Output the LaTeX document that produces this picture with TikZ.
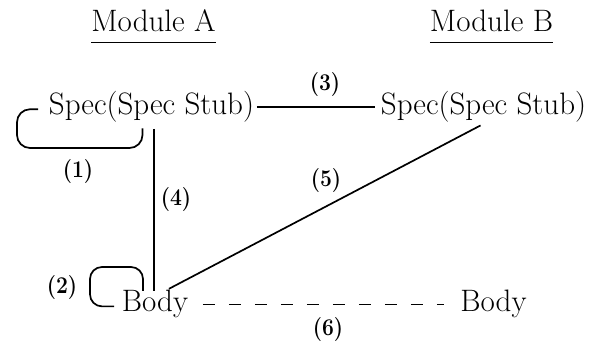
\documentclass[tikz,border=0pt]{standalone}
\begin{document}
\begin{tikzpicture}[x=1pt,y=-1pt,
  modtext/.style={font=\fontsize{31}{37}\selectfont, inner sep=2.5pt, anchor=base},
  titletext/.style={font=\fontsize{31}{37}\selectfont, inner sep=0pt, anchor=base},
  lbl/.style={font=\fontsize{24}{28}\selectfont\bfseries, inner sep=0pt},
  conn/.style={line width=1.7pt},
  ul/.style={line width=1.5pt}]
\newcommand{\lbltext}[1]{\scalebox{0.88}[1]{#1}}
\useasboundingbox (0,0) rectangle (594,344);
% titles
\node[titletext] (ModA) at (153.5,32) {Module A};
\node[titletext] (ModB) at (491.5,32) {Module B};
\draw[ul] ([yshift=-10pt]ModA.south west) -- ([yshift=-10pt]ModA.south east);
\draw[ul] ([yshift=-10pt]ModB.south west) -- ([yshift=-10pt]ModB.south east);
% nodes
\node[modtext] (SpecA) at (151.5,115) {Spec(Spec Stub)};
\node[modtext] (SpecB) at (483.5,115) {Spec(Spec Stub)};
\node[modtext] (BodyA) at (155,312) {Body};
\node[modtext] (BodyB) at (493.5,312) {Body};
% (3)
\draw[conn] (SpecA.east) -- ([xshift=-3pt]SpecB.west);
\node[lbl] (l3) at (325,85) {\lbltext{(3)}};
% (1) loop
\draw[conn, rounded corners=13pt] ([xshift=-8pt,yshift=-2pt]SpecA.west) -| (17,148) -| ([xshift=-9pt,yshift=-3pt]SpecA.south);
\node[lbl] (l1) at (78,172) {\lbltext{(1)}};
% (4)
\draw[conn] ([xshift=2.5pt,yshift=-3.5pt]SpecA.south) -- ([xshift=-1pt,yshift=-3pt]BodyA.north);
\node[lbl] (l4) at (176,200) {\lbltext{(4)}};
% (5)
\draw[conn] ([xshift=14pt,yshift=-1pt]BodyA.north) -- ([xshift=-3pt]SpecB.south);
\node[lbl] (l5) at (326,181) {\lbltext{(5)}};
% (6)
\draw[conn, dash pattern=on 12pt off 14pt] ([xshift=12pt]BodyA.east) -- ([xshift=-14pt]BodyB.west);
\node[lbl] (l6) at (328,330) {\lbltext{(6)}};
% (2) loop
\draw[conn, rounded corners=12pt] ([xshift=-5pt,yshift=-2pt]BodyA.west) -| (90,267) -| ([xshift=-12pt,yshift=-3pt]BodyA.north);
\node[lbl] (l2) at (62,288) {\lbltext{(2)}};
\end{tikzpicture}
\end{document}
